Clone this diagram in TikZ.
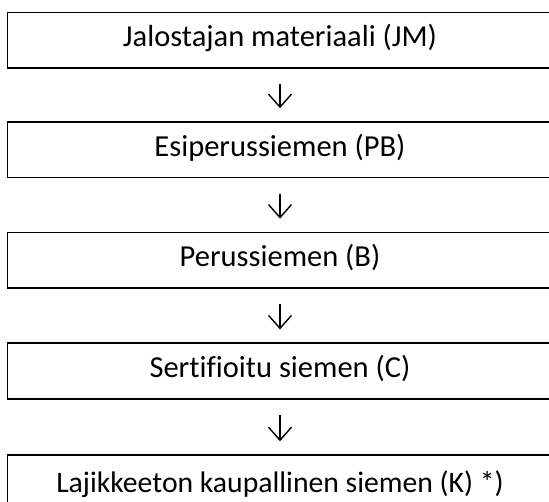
\documentclass[tikz,border=0pt]{standalone}
\usepackage{fontspec}
\setmainfont[Ligatures={NoCommon}]{Carlito}
\usetikzlibrary{arrows.meta}
\begin{document}
\begin{tikzpicture}[x=1pt,y=-1pt,
  stagebox/.style={draw=black,line width=1.5pt,minimum width=545pt,minimum height=55.7pt,
    inner sep=0pt,font=\fontsize{30.5}{33}\selectfont,text height=20pt,text depth=7pt},
  flow/.style={line width=1.4pt,-{Straight Barb[length=13pt,width=23pt,line width=1.4pt]},
    shorten <=15.5pt,shorten >=13pt}]
\useasboundingbox[fill=white] (0,0) rectangle (549,502);
\node[stagebox] (jm) at (280,40.2) {Jalostajan materiaali (JM)};
\node[stagebox] (pb) at (280,149.8) {Esiperussiemen (PB)};
\node[stagebox] (b)  at (280,260.2) {Perussiemen (B)};
\node[stagebox] (c)  at (280,371) {Sertifioitu siemen (C)};
\node[stagebox,minimum height=70pt,text height=20pt,text depth=14pt,
  font=\fontsize{29.7}{32}\selectfont] (k) at (280,490) {Lajikkeeton kaupallinen siemen (K) *)};
\draw[flow] (jm) -- (pb);
\draw[flow] (pb) -- (b);
\draw[flow] (b) -- (c);
\draw[flow] (c) -- (k);
\end{tikzpicture}
\end{document}
